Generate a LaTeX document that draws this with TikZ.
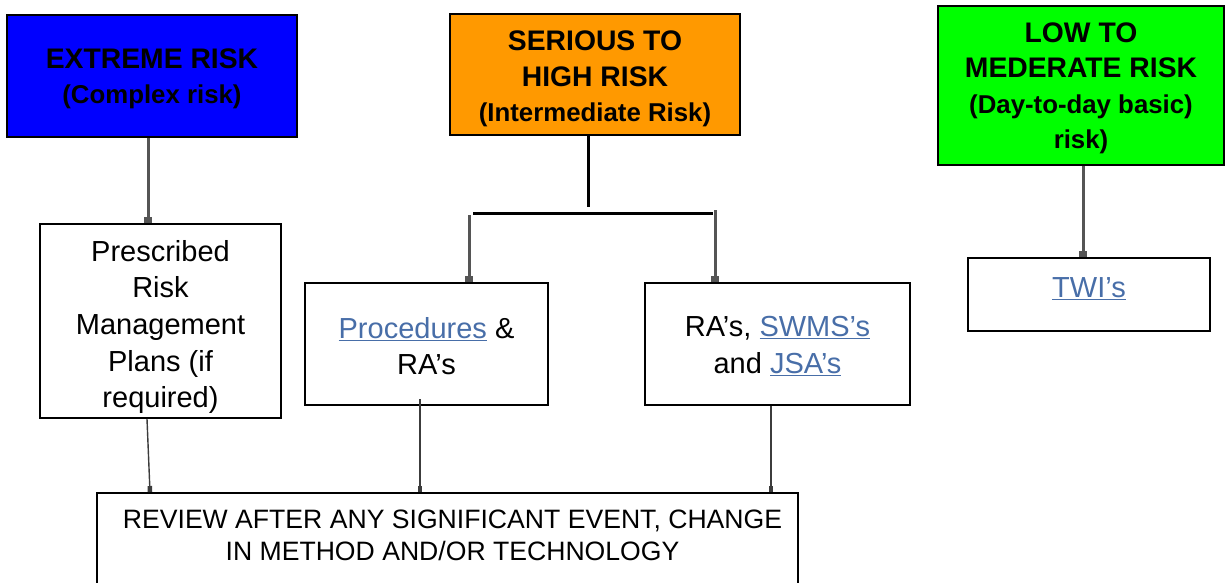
\documentclass[tikz,border=0pt]{standalone}
\usepackage{fontspec}
\setmainfont{Liberation Sans}
\usetikzlibrary{arrows.meta}
\definecolor{cblue}{RGB}{0,0,255}
\definecolor{corange}{RGB}{255,153,0}
\definecolor{cgreen}{RGB}{0,255,0}
\definecolor{clink}{RGB}{72,110,168}
\definecolor{carrow}{RGB}{85,85,85}
\newcommand{\lnk}[1]{\textcolor{clink}{\underline{#1}}}
\tikzset{
  box/.style={draw=black, line width=2pt, inner sep=0pt},
  risktxt/.style={inner sep=0pt, align=center, font=\bfseries\fontsize{28.3}{35.5}\selectfont},
  plaintxt/.style={inner sep=0pt, align=center, font=\fontsize{29}{36.7}\selectfont},
  arr/.style={draw=carrow, line width=3pt, -{Rectangle[length=6pt,width=7.5pt]}},
  arrthin/.style={draw=carrow!70!black, line width=1.4pt, -{Rectangle[length=6pt,width=4.5pt]}},
  bar/.style={draw=black, line width=3pt},
}
\newcommand{\subfs}{\fontsize{25.8}{35.5}\selectfont}
\begin{document}
\begin{tikzpicture}[x=1pt,y=-1pt]
\useasboundingbox (0,0) rectangle (1225,583);
% top risk boxes
\node[box, fill=cblue, minimum width=290pt, minimum height=122pt] (blue) at (152,76) {};
\node[risktxt] (bluet) at (152,79) {EXTREME RISK\\{\subfs (Complex risk)}};
\node[box, fill=corange, minimum width=290pt, minimum height=121pt] (orange) at (595,74.5) {};
\node[risktxt] (oranget) at (595,79) {SERIOUS TO\\HIGH RISK\\{\subfs (Intermediate Risk)}};
\node[box, fill=cgreen, minimum width=286pt, minimum height=159pt] (green) at (1081,85.5) {};
\node[risktxt] (greent) at (1081,88.5) {LOW TO\\MEDERATE RISK\\{\subfs (Day-to-day basic)}\\{\subfs risk)}};
% middle boxes
\node[box, minimum width=241pt, minimum height=194pt] (pres) at (160.5,321) {};
\node[plaintxt] (prest) at (160.5,327) {Prescribed\\Risk\\Management\\Plans (if\\required)};
\node[box, minimum width=243pt, minimum height=122pt] (proc) at (426.5,344) {};
\node[plaintxt] (proct) at (426.5,346) {\lnk{Procedures} \&\\RA’s};
\node[box, minimum width=265pt, minimum height=122pt] (ra) at (777.5,344) {};
\node[plaintxt] (rat) at (777.5,346) {RA’s, \lnk{SWMS’s}\\and \lnk{JSA’s}};
\node[box, minimum width=242pt, minimum height=73pt] (twi) at (1089,294.5) {};
\node[plaintxt] (twit) at (1089,289) {\lnk{TWI’s}};
% review box
\node[box, minimum width=701pt, minimum height=117pt] (rev) at (447.5,551.5) {};
\node[inner sep=0pt, align=center, font=\fontsize{26.6}{32}\selectfont] (revt) at (452.5,535.5)
  {REVIEW AFTER ANY SIGNIFICANT EVENT, CHANGE\\IN METHOD AND/OR TECHNOLOGY};
% connectors
\draw[arr] ([xshift=-4pt]blue.south) -- ([xshift=-12.5pt]pres.north);
\draw[arr] ([xshift=2pt]green.south) -- ([xshift=-6pt]twi.north);
\coordinate (j) at (588,207);
\coordinate (hl) at (473,213);
\coordinate (hr) at (713,213);
\coordinate (dl) at (469,215);
\coordinate (dr) at (715,210);
\draw[bar] ([xshift=-7pt]orange.south) -- (j);
\draw[bar] (hl) -- (hr);
\draw[arr] (dl) -- ([xshift=42.5pt]proc.north);
\draw[arr] (dr) -- ([xshift=-62.5pt]ra.north);
\draw[arrthin] ([xshift=-13.5pt]pres.south) -- ([xshift=-297.5pt]rev.north);
\draw[arrthin] ([xshift=-6.5pt,yshift=7pt]proc.south) -- ([xshift=-27.5pt]rev.north);
\draw[arrthin] ([xshift=-6.5pt]ra.south) -- ([xshift=323.5pt]rev.north);
\end{tikzpicture}
\end{document}
